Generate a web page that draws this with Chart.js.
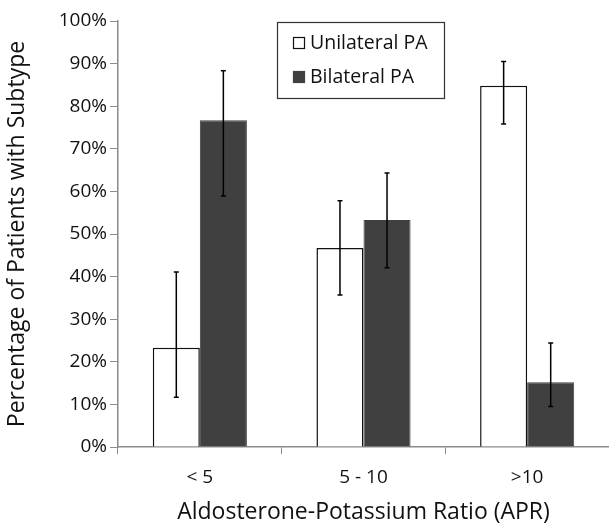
<!DOCTYPE html>
<html>
<head>
<meta charset="utf-8">
<script src="https://cdn.jsdelivr.net/npm/chart.js@4"></script>
<style>
  html, body { margin: 0; padding: 0; background: #fff; }
  #wrap { width: 609px; height: 530px; }
</style>
</head>
<body>
<div id="wrap"><canvas id="apr-chart"></canvas></div>
<script>
// data
const categories = ['< 5', '5 - 10', '>10'];
const unilateral = [23.3, 46.7, 84.8];
const bilateral = [76.7, 53.3, 15.2];
const unilateralLow = [11.7, 35.7, 75.8];
const unilateralHigh = [41.1, 57.8, 90.5];
const bilateralLow = [58.9, 42.1, 9.5];
const bilateralHigh = [88.3, 64.3, 24.4];

const FONT = '"Open Sans", sans-serif';
const axisGrey = '#8c8c8c';

// error bars drawn through the chart's own scales
const errorBars = {
  id: 'errorBars',
  afterDatasetsDraw(chart) {
    const ctx = chart.ctx;
    const y = chart.scales.y;
    const ranges = [[unilateralLow, unilateralHigh], [bilateralLow, bilateralHigh]];
    ctx.save();
    ctx.strokeStyle = '#000';
    ctx.lineWidth = 1.5;
    ranges.forEach((r, di) => {
      chart.getDatasetMeta(di).data.forEach((bar, i) => {
        const x = bar.x;
        const yLo = y.getPixelForValue(r[0][i]);
        const yHi = y.getPixelForValue(r[1][i]);
        ctx.beginPath();
        ctx.moveTo(x, yLo); ctx.lineTo(x, yHi);
        ctx.moveTo(x - 2.5, yLo); ctx.lineTo(x + 2.5, yLo);
        ctx.moveTo(x - 2.5, yHi); ctx.lineTo(x + 2.5, yHi);
        ctx.stroke();
      });
    });
    ctx.restore();
  }
};

// boxed legend inside the plot area
const boxLegend = {
  id: 'boxLegend',
  afterDraw(chart) {
    const ctx = chart.ctx;
    const bx = 277, by = 22, bw = 167, bh = 76;
    ctx.save();
    ctx.strokeStyle = '#333';
    ctx.lineWidth = 1.2;
    ctx.strokeRect(bx + 0.5, by + 0.5, bw, bh);
    ctx.font = '19.5px ' + FONT;
    ctx.textBaseline = 'middle';
    chart.data.datasets.forEach((ds, i) => {
      const cy = by + 21 + i * 34;
      ctx.fillStyle = ds.backgroundColor;
      ctx.fillRect(bx + 16, cy - 6, 12, 12);
      ctx.strokeStyle = ds.borderColor;
      ctx.lineWidth = 1.2;
      ctx.strokeRect(bx + 16.5, cy - 5.5, 11, 11);
      ctx.fillStyle = '#111';
      ctx.fillText(ds.label, bx + 33, cy);
    });
    ctx.restore();
  }
};

new Chart(document.getElementById('apr-chart'), {
  type: 'bar',
  data: {
    labels: categories,
    datasets: [
      {
        label: 'Unilateral PA',
        data: unilateral,
        backgroundColor: '#ffffff',
        borderColor: '#111111',
        borderWidth: 1.5,
      },
      {
        label: 'Bilateral PA',
        data: bilateral,
        backgroundColor: '#404040',
        borderColor: '#404040',
        borderWidth: 1,
      },
    ],
  },
  options: {
    responsive: true,
    maintainAspectRatio: false,
    animation: false,
    layout: { padding: { top: 21, right: 0, left: 0, bottom: 0 } },
    datasets: { bar: { categoryPercentage: 0.575, barPercentage: 1 } },
    plugins: {
      legend: { display: false },
      tooltip: { enabled: false },
    },
    scales: {
      x: {
        grid: {
          offset: true,
          drawOnChartArea: false,
          tickLength: 7,
          color: axisGrey,
        },
        border: { color: axisGrey, width: 1.5 },
        ticks: { color: '#111', font: { family: FONT, size: 19 }, padding: 12 },
        title: {
          display: true,
          text: 'Aldosterone-Potassium Ratio (APR)',
          color: '#111',
          font: { family: FONT, size: 23 },
          padding: { top: 8 },
        },
        afterFit(scale) { scale.height = 83; },
      },
      y: {
        min: 0,
        max: 100,
        grid: { drawOnChartArea: false, tickLength: 8, color: axisGrey },
        border: { color: axisGrey, width: 1.5 },
        ticks: {
          stepSize: 10,
          color: '#111',
          font: { family: FONT, size: 19 },
          padding: 3,
          callback: v => v + '%',
        },
        title: {
          display: true,
          text: 'Percentage of Patients with Subtype',
          color: '#111',
          font: { family: FONT, size: 23 },
          padding: { bottom: 5 },
        },
        afterFit(scale) { scale.width = 118; },
      },
    },
  },
  plugins: [errorBars, boxLegend],
});
</script>
</body>
</html>
